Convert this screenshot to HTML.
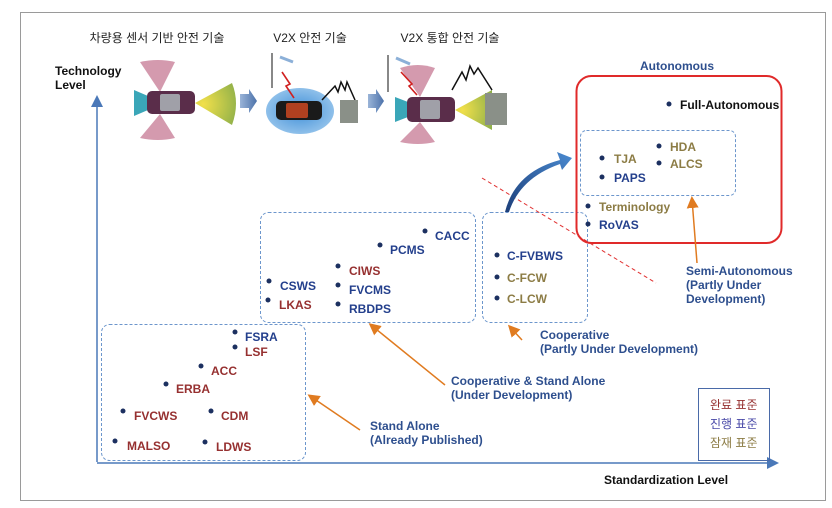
<!DOCTYPE html>
<html><head><meta charset="utf-8"><style>
html,body{margin:0;padding:0;background:#fff;}
svg{display:block;}
text{font-family:"Liberation Sans","Noto Sans CJK KR",sans-serif;font-weight:bold;font-size:12px;}
.b{fill:#233f8c}.r{fill:#963030}.o{fill:#8c7c45}.k{fill:#111}.lb{fill:#2e4f8e}
.t{font-weight:normal;font-size:12px;fill:#222}
</style></head><body>
<svg width="832" height="508" viewBox="0 0 832 508" xmlns="http://www.w3.org/2000/svg">
<defs>
<marker id="ob" markerWidth="8" markerHeight="8" refX="6" refY="4" orient="auto"><path d="M0,0 L8,4 L0,8 z" fill="#e07b20"/></marker>
<marker id="bb" markerWidth="8" markerHeight="8" refX="6" refY="4" orient="auto"><path d="M0,0 L8,4 L0,8 z" fill="#4a78b8"/></marker>
<radialGradient id="gr" cx="0.2" cy="0.5" r="0.9"><stop offset="0" stop-color="#f2e04a"/><stop offset="1" stop-color="#8fb04a"/></radialGradient>
<radialGradient id="bl" cx="0.5" cy="0.5" r="0.5"><stop offset="0" stop-color="#3f8fd8"/><stop offset="1" stop-color="#8fc0ea"/></radialGradient>
<linearGradient id="ar" x1="0" y1="0" x2="1" y2="0"><stop offset="0" stop-color="#9ab4d8"/><stop offset="1" stop-color="#4c72aa"/></linearGradient>
<linearGradient id="cv" x1="0" y1="1" x2="1" y2="0"><stop offset="0" stop-color="#1d3f7a"/><stop offset="1" stop-color="#4a8ad0"/></linearGradient>
</defs>
<rect x="20.5" y="12.5" width="805" height="488" fill="#fff" stroke="#9a9a9a"/>

<!-- titles -->
<text class="t" x="157" y="42" text-anchor="middle">차량용 센서 기반 안전 기술</text>
<text class="t" x="310" y="42" text-anchor="middle">V2X 안전 기술</text>
<text class="t" x="450" y="42" text-anchor="middle">V2X 통합 안전 기술</text>
<text class="k" x="55" y="75">Technology</text>
<text class="k" x="55" y="89">Level</text>

<!-- car 1 -->
<path d="M140,62 Q158,58 175,62 L160,92 Z" fill="#d49aae"/>
<path d="M140,138 Q158,142 175,138 L160,114 Z" fill="#d49aae"/>
<path d="M195,103 L232,83 Q240,103 232,125 Z" fill="url(#gr)"/>
<path d="M148,96 L134,90 L134,116 L148,110 Z" fill="#3aa6b8"/>
<rect x="147" y="91" width="48" height="23" rx="5" fill="#5a2d4a"/>
<rect x="160" y="94" width="20" height="17" rx="2" fill="#a0a0a8"/>
<!-- arrow -->
<path d="M240,94 L249,94 L249,89 L257,101 L249,113 L249,108 L240,108 Z" fill="url(#ar)"/>
<!-- car 2 -->
<ellipse cx="300" cy="111" rx="34" ry="23" fill="url(#bl)"/>
<rect x="276" y="101" width="46" height="19" rx="5" fill="#1a1a1a"/>
<rect x="286" y="103" width="22" height="15" rx="2" fill="#b04020"/>
<line x1="272" y1="53" x2="272" y2="88" stroke="#888" stroke-width="2"/>
<line x1="280" y1="57" x2="293" y2="62" stroke="#8cb0d8" stroke-width="3"/>
<path d="M282,72 L290,84 L286,86 L294,98" fill="none" stroke="#d02020" stroke-width="1.6"/>
<path d="M322,100 L335,86 L338,92 L341,82 L345,90 L347,82 L355,100" fill="none" stroke="#111" stroke-width="1.5"/>
<rect x="340" y="100" width="18" height="23" fill="#8a9088"/>
<path d="M368,94 L376,94 L376,89 L384,101 L376,113 L376,108 L368,108 Z" fill="url(#ar)"/>
<!-- car 3 -->
<line x1="388" y1="55" x2="388" y2="92" stroke="#888" stroke-width="2"/>
<line x1="396" y1="58" x2="410" y2="64" stroke="#8cb0d8" stroke-width="3"/>
<path d="M400,68 Q418,62 435,68 L420,97 Z" fill="#d49aae"/>
<path d="M400,142 Q418,146 435,142 L420,122 Z" fill="#d49aae"/>
<path d="M401,72 L412,84 L409,86 L417,95" fill="none" stroke="#d02020" stroke-width="1.6"/>
<path d="M455,110 L492,90 L492,130 Z" fill="url(#gr)"/>
<path d="M408,102 L395,97 L395,122 L408,117 Z" fill="#3aa6b8"/>
<rect x="407" y="97" width="48" height="25" rx="5" fill="#5a2d4a"/>
<rect x="420" y="100" width="20" height="19" rx="2" fill="#a0a0a8"/>
<path d="M452,90 L462,72 L466,80 L470,66 L474,74 L478,68 L492,90" fill="none" stroke="#111" stroke-width="1.5"/>
<rect x="485" y="93" width="22" height="32" fill="#8a9088"/>

<!-- axes -->
<line x1="97" y1="462" x2="97" y2="98" stroke="#4a78b8" stroke-width="1.5" marker-end="url(#bb)"/>
<line x1="97" y1="463" x2="776" y2="463" stroke="#4a78b8" stroke-width="1.5" marker-end="url(#bb)"/>
<text class="k" x="604" y="484">Standardization Level</text>

<!-- boxes -->
<g fill="none" stroke="#6c96cc" stroke-dasharray="3,2" stroke-width="1">
<rect x="101.5" y="324.5" width="204" height="136" rx="8"/>
<rect x="260.5" y="212.5" width="215" height="110" rx="8"/>
<rect x="482.5" y="212.5" width="105" height="110" rx="8"/>
<rect x="580.5" y="130.5" width="155" height="65" rx="6"/>
</g>
<rect x="576.5" y="76" width="205" height="167" rx="15" fill="none" stroke="#e02a2a" stroke-width="2"/>
<rect x="698.5" y="388.5" width="71" height="72" fill="none" stroke="#4a6aa8"/>

<!-- red dashed -->
<line x1="482" y1="178" x2="656" y2="283" stroke="#e03030" stroke-dasharray="4,3" stroke-width="1"/>
<!-- curved blue arrow -->
<path d="M505,212 Q515,172 560,160 L557,152 L572,158 L562,170 L560,164 Q520,178 509,212 Z" fill="url(#cv)"/>

<!-- orange arrows -->
<g stroke="#e07b20" stroke-width="1.5" marker-end="url(#ob)">
<line x1="697" y1="263" x2="692" y2="199"/>
<line x1="522" y1="340" x2="510" y2="327"/>
<line x1="445" y1="385" x2="371" y2="325"/>
<line x1="360" y1="430" x2="310" y2="396"/>
</g>

<!-- dots -->
<g fill="#1c3060">
<circle cx="235" cy="332" r="2.5"/><circle cx="235" cy="347" r="2.5"/><circle cx="201" cy="366" r="2.5"/><circle cx="166" cy="384" r="2.5"/>
<circle cx="123" cy="411" r="2.5"/><circle cx="211" cy="411" r="2.5"/><circle cx="115" cy="441" r="2.5"/><circle cx="205" cy="442" r="2.5"/>
<circle cx="425" cy="231" r="2.5"/><circle cx="380" cy="245" r="2.5"/><circle cx="338" cy="266" r="2.5"/><circle cx="338" cy="285" r="2.5"/><circle cx="338" cy="304" r="2.5"/>
<circle cx="269" cy="281" r="2.5"/><circle cx="268" cy="300" r="2.5"/>
<circle cx="497" cy="255" r="2.5"/><circle cx="497" cy="277" r="2.5"/><circle cx="497" cy="298" r="2.5"/>
<circle cx="669" cy="104" r="2.5"/><circle cx="602" cy="158" r="2.5"/><circle cx="602" cy="177" r="2.5"/><circle cx="659" cy="146" r="2.5"/><circle cx="659" cy="163" r="2.5"/>
<circle cx="588" cy="206" r="2.5"/><circle cx="588" cy="224" r="2.5"/>
</g>
<text class="b" x="245" y="341">FSRA</text><text class="r" x="245" y="356">LSF</text>
<text class="r" x="211" y="375">ACC</text><text class="r" x="176" y="393">ERBA</text>
<text class="r" x="134" y="420">FVCWS</text><text class="r" x="221" y="420">CDM</text>
<text class="r" x="127" y="450">MALSO</text><text class="r" x="216" y="451">LDWS</text>
<text class="b" x="435" y="240">CACC</text><text class="b" x="390" y="254">PCMS</text>
<text class="r" x="349" y="275">CIWS</text><text class="b" x="349" y="294">FVCMS</text><text class="b" x="349" y="313">RBDPS</text>
<text class="b" x="280" y="290">CSWS</text><text class="r" x="279" y="309">LKAS</text>
<text class="b" x="507" y="260">C-FVBWS</text><text class="o" x="507" y="282">C-FCW</text><text class="o" x="507" y="303">C-LCW</text>
<text class="k" x="680" y="109">Full-Autonomous</text>
<text class="o" x="614" y="163">TJA</text><text class="b" x="614" y="182">PAPS</text>
<text class="o" x="670" y="151">HDA</text><text class="o" x="670" y="168">ALCS</text>
<text class="o" x="599" y="211">Terminology</text><text class="b" x="599" y="229">RoVAS</text>
<text class="lb" x="677" y="70" text-anchor="middle">Autonomous</text>

<text class="lb" x="686" y="275">Semi-Autonomous</text>
<text class="lb" x="686" y="289">(Partly Under</text>
<text class="lb" x="686" y="303">Development)</text>
<text class="lb" x="540" y="339">Cooperative</text>
<text class="lb" x="540" y="353">(Partly Under Development)</text>
<text class="lb" x="451" y="385">Cooperative &amp; Stand Alone</text>
<text class="lb" x="451" y="399">(Under Development)</text>
<text class="lb" x="370" y="430">Stand Alone</text>
<text class="lb" x="370" y="444">(Already Published)</text>

<text x="710" y="409" style="font-weight:normal;fill:#963030">완료 표준</text>
<text x="710" y="428" style="font-weight:normal;fill:#4a4aa8">진행 표준</text>
<text x="710" y="447" style="font-weight:normal;fill:#8c7c45">잠재 표준</text>
</svg>
</body></html>
